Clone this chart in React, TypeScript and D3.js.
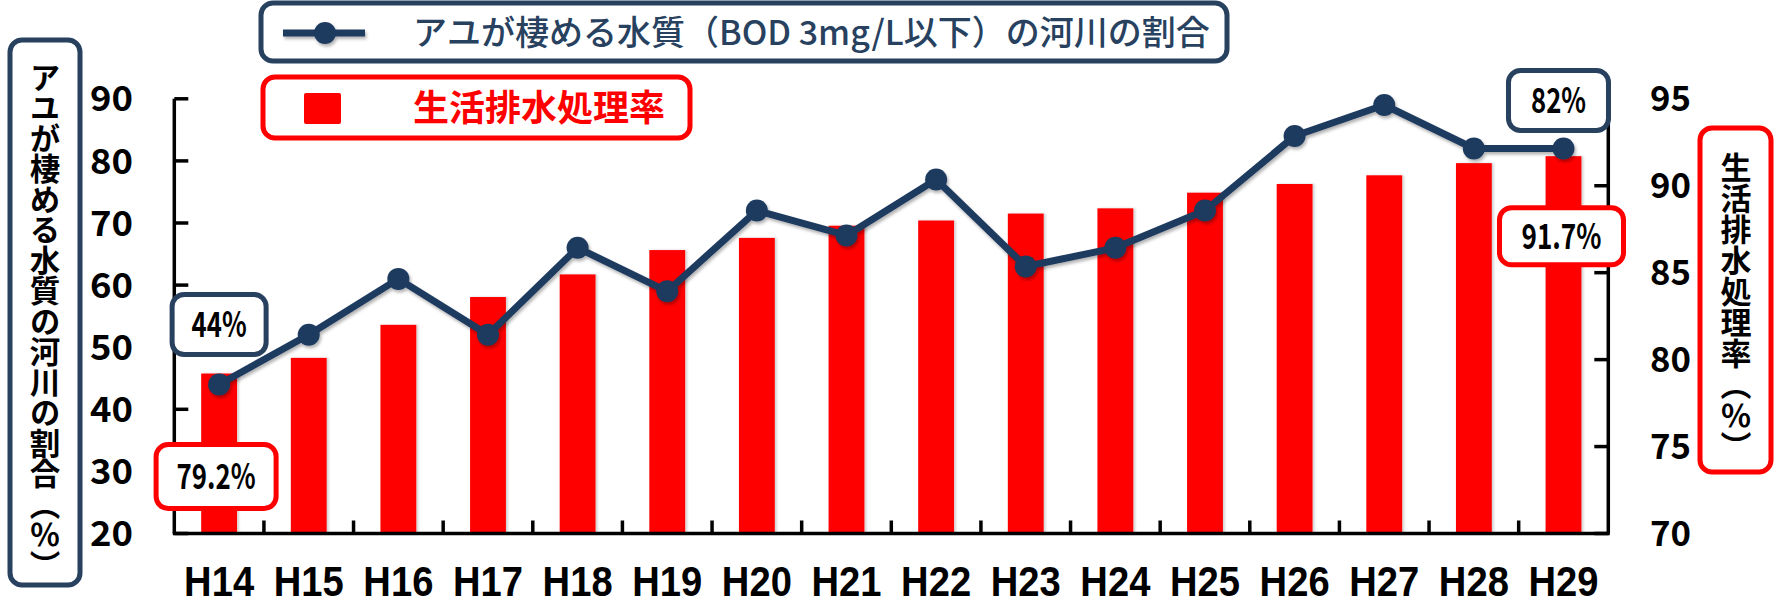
import * as React from "react";
import * as d3 from "d3";

// 年度
const categories = ["H14", "H15", "H16", "H17", "H18", "H19", "H20", "H21", "H22", "H23", "H24", "H25", "H26", "H27", "H28", "H29"];
// アユが棲める水質（BOD 3mg/L以下）の河川の割合 (%)
const ayuRiverRatio = [44, 52, 61, 52, 66, 59, 72, 68, 77, 63, 66, 72, 84, 89, 82, 82];
// 生活排水処理率 (%)
const sewageRate = [79.2, 80.1, 82.0, 83.6, 84.9, 86.3, 87.0, 87.7, 88.0, 88.4, 88.7, 89.6, 90.1, 90.6, 91.3, 91.7];

const leftTicks = [20, 30, 40, 50, 60, 70, 80, 90];
const rightTicks = [70, 75, 80, 85, 90, 95];

const lineLegend = "アユが棲める水質（BOD 3mg/L以下）の河川の割合";
const barLegend = "生活排水処理率";
const leftTitle = "アユが棲める水質の河川の割合（％）";
const rightTitle = "生活排水処理率（％）";

const W = 1774;
const H = 605;
const NAVY = "#1f3a5f";
const BOX_NAVY = "#27415f";
const RED = "#ff0000";
const FONT = "'Noto Sans CJK JP', 'Noto Sans', sans-serif";

export default function App() {
  const left = 174.3, right = 1608.3, top = 98.8, bottom = 533.5;

  const x = d3.scaleBand<string>().domain(categories).range([left, right]).paddingInner(0.6).paddingOuter(0.3);
  const yL = d3.scaleLinear().domain([20, 90]).range([bottom, top]);
  const yR = d3.scaleLinear().domain([70, 95]).range([bottom, top]);
  const cx = (c: string) => x(c)! + x.bandwidth() / 2;

  const line = d3.line<number>()
    .x((_, i) => cx(categories[i]))
    .y((d) => yL(d));

  const first = categories[0];
  const last = categories[categories.length - 1];
  const lastAyu = ayuRiverRatio[ayuRiverRatio.length - 1];
  const lastRate = sewageRate[sewageRate.length - 1];

  // annotation boxes: text, centre x/y, box size, stroke colour, text width
  const notes: [string, number, number, number, number, string, number][] = [
    [`${ayuRiverRatio[0]}%`, cx(first), yL(ayuRiverRatio[0]) - 60, 94, 60, BOX_NAVY, 55],
    [`${sewageRate[0]}%`, cx(first) - 3, yR(sewageRate[0]) + 103, 120, 64, RED, 79],
    [`${lastAyu}%`, cx(last) - 5, yL(lastAyu) - 48, 100, 60, BOX_NAVY, 55],
    [`${lastRate}%`, cx(last) - 2, yR(lastRate) + 80, 124, 57, RED, 80],
  ];

  return (
    <svg width={W} height={H} style={{ position: "absolute", left: 0, top: 0, display: "block", background: "#fff" }} fontFamily={FONT}>
      <defs>
        <filter id="shadow" x="-20%" y="-20%" width="160%" height="160%">
          <feDropShadow dx="1.5" dy="2.5" stdDeviation="1.5" floodColor="#000" floodOpacity="0.3" />
        </filter>
        <filter id="barShadow" x="-10%" y="-5%" width="130%" height="110%">
          <feDropShadow dx="2" dy="0" stdDeviation="1" floodColor="#000" floodOpacity="0.18" />
        </filter>
      </defs>

      {/* bars */}
      <g filter="url(#barShadow)">
        {categories.map((c, i) => (
          <rect key={c} x={x(c)} y={yR(sewageRate[i])} width={x.bandwidth()} height={bottom - yR(sewageRate[i])} fill={RED} />
        ))}
      </g>

      {/* axes */}
      <g stroke="#000" strokeWidth={3.5} fill="none">
        <line x1={left} x2={left} y1={top} y2={bottom} />
        <line x1={right} x2={right} y1={top} y2={bottom} />
        <line x1={left - 1.5} x2={right + 1.5} y1={bottom} y2={bottom} />
        {leftTicks.map((t) => (
          <line key={t} x1={left} x2={left + 14} y1={yL(t)} y2={yL(t)} />
        ))}
        {rightTicks.map((t) => (
          <line key={t} x1={right - 14} x2={right} y1={yR(t)} y2={yR(t)} />
        ))}
        {categories.slice(1).map((c) => {
          const bx = x(c)! - (x.step() * x.paddingInner()) / 2;
          return <line key={c} x1={bx} x2={bx} y1={bottom - 13} y2={bottom} />;
        })}
      </g>

      {/* tick labels */}
      <g fontWeight={700} fontSize={35} fill="#000">
        {leftTicks.map((t) => (
          <text key={t} x={133} y={yL(t)} dy="0.36em" textAnchor="end" textLength={43} lengthAdjust="spacingAndGlyphs">{t}</text>
        ))}
        {rightTicks.map((t) => (
          <text key={t} x={1650} y={yR(t)} dy="0.36em" textAnchor="start" textLength={41} lengthAdjust="spacingAndGlyphs">{t}</text>
        ))}
      </g>
      <g fontWeight={700} fontSize={42} fill="#000" fontFamily="'Liberation Sans', Arial, sans-serif">
        {categories.map((c) => (
          <text key={c} x={cx(c)} y={596} textAnchor="middle" textLength={70} lengthAdjust="spacingAndGlyphs">{c}</text>
        ))}
      </g>

      {/* line series */}
      <g filter="url(#shadow)">
        <path d={line(ayuRiverRatio)!} fill="none" stroke={NAVY} strokeWidth={7} strokeLinejoin="round" />
        {ayuRiverRatio.map((v, i) => (
          <circle key={i} cx={cx(categories[i])} cy={yL(v)} r={11} fill={NAVY} />
        ))}
      </g>

      {/* annotations */}
      {notes.map(([t, nx, ny, w, h, col, tl]) => (
        <g key={t}>
          <rect x={nx - w / 2} y={ny - h / 2} width={w} height={h} rx={12} fill="#fff" stroke={col} strokeWidth={5} />
          <text x={nx} y={ny} dy="0.36em" textAnchor="middle" fontSize={35} fontWeight={700} fill="#000" textLength={tl} lengthAdjust="spacingAndGlyphs">{t}</text>
        </g>
      ))}

      {/* legend: line */}
      <rect x={261} y={3} width={966} height={58} rx={12} fill="#fff" stroke={BOX_NAVY} strokeWidth={5} />
      <g filter="url(#shadow)">
        <line x1={283} x2={365} y1={33} y2={33} stroke={NAVY} strokeWidth={7} />
        <circle cx={325} cy={33} r={11} fill={NAVY} />
      </g>
      <text x={413} y={33} dy="0.36em" fontSize={34} fontWeight={500} fill={BOX_NAVY}>{lineLegend}</text>

      {/* legend: bars */}
      <rect x={263} y={77} width={427} height={61} rx={12} fill="#fff" stroke={RED} strokeWidth={5} />
      <rect x={304} y={93} width={37} height={31} rx={2} fill={RED} />
      <text x={413} y={108} dy="0.36em" fontSize={36} fontWeight={700} fill={RED}>{barLegend}</text>

      {/* axis titles */}
      <rect x={10} y={40} width={70} height={545} rx={12} fill="#fff" stroke={BOX_NAVY} strokeWidth={5} />
      <text x={45} y={321} textAnchor="middle" fontSize={30.5} fontWeight={700} fill="#000" style={{ writingMode: "vertical-rl" }}>{leftTitle}</text>
      <rect x={1700} y={128} width={71} height={344} rx={12} fill="#fff" stroke={RED} strokeWidth={5} />
      <text x={1736} y={307} textAnchor="middle" fontSize={31} fontWeight={700} fill="#000" style={{ writingMode: "vertical-rl" }}>{rightTitle}</text>
    </svg>
  );
}
